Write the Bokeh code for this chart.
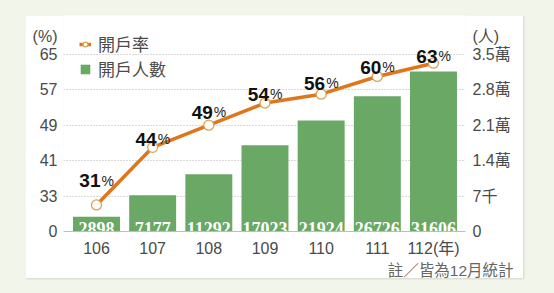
from bokeh.plotting import figure
from bokeh.models import (Range1d, LinearAxis, FixedTicker, Legend, LegendItem,
                          ColumnDataSource, Title)
from bokeh.layouts import column
from bokeh.embed import file_html
from bokeh.resources import INLINE
from bokeh.core.properties import value

# ---------------- data ----------------
years = [106, 107, 108, 109, 110, 111, 112]
year_tick_labels = ["106", "107", "108", "109", "110", "111", "112(年)"]
counts = [2898, 7177, 11292, 17023, 21924, 26726, 31606]
rates = [31, 44, 49, 54, 56, 60, 63]
pct_ticks = [25, 33, 41, 49, 57, 65]
pct_tick_labels = ["0", "33", "41", "49", "57", "65"]
cnt_ticks = [0, 7000, 14000, 21000, 28000, 35000]
cnt_tick_labels = ["0", "7千", "1.4萬", "2.1萬", "2.8萬", "3.5萬"]
series_names = ["開戶率", "開戶人數"]
unit_labels = ["(%)", "(人)"]
note_text = "註／皆為12月統計"

# ---------------- style ----------------
GREEN = "#69a865"
ORANGE = "#e0761c"
MARK_LINE = "#d9a25e"
TXT = "#4a4a4a"
SANS = "Liberation Sans, Noto Sans CJK TC, sans-serif"
CJK = "Noto Sans CJK TC, sans-serif"
NARROW = "Liberation Sans Narrow"
label_dy = [-31, -15, -20, -16, -18, -16, -14]   # label offsets above points (px)

# frame geometry (px) -> ranges
PX_PER_PCT = 4.45
FRAME_H = 217
X0, X1 = 105.4125, 112.57
Y0 = pct_ticks[0]
Y1 = Y0 + FRAME_H / PX_PER_PCT
C1 = FRAME_H * cnt_ticks[-1] / ((pct_ticks[-1] - pct_ticks[0]) * PX_PER_PCT)
UNIT_PX = 196                                     # unit labels height above baseline
unit_pct = Y0 + UNIT_PX / PX_PER_PCT
unit_cnt = UNIT_PX * C1 / FRAME_H

p = figure(width=498, height=263, output_backend="svg", toolbar_location=None,
           x_range=Range1d(X0, X1), y_range=Range1d(Y0, Y1),
           min_border_left=38, min_border_right=58, min_border_top=0,
           min_border_bottom=46, background_fill_color="white",
           border_fill_color="white", outline_line_color=None)
p.margin = (15, 31, 15, 25)
p.extra_y_ranges = {"cnt": Range1d(0, C1)}


def style_axis(ax, standoff):
    ax.axis_line_color = None
    ax.major_tick_line_color = None
    ax.minor_tick_line_color = None
    ax.major_tick_out = 0
    ax.major_tick_in = 0
    ax.minor_tick_out = 0
    ax.major_label_standoff = standoff
    ax.major_label_text_font = SANS
    ax.major_label_text_font_size = "16px"
    ax.major_label_text_color = TXT


xa = p.xaxis[0]
xa.ticker = FixedTicker(ticks=years)
xa.major_label_overrides = {y: l for y, l in zip(years, year_tick_labels)}
style_axis(xa, 8)
xa.axis_line_color = "#bdbdbd"
xa.axis_line_width = 1

ya = p.yaxis[0]
ya.ticker = FixedTicker(ticks=pct_ticks + [unit_pct])
ovr = {t: l for t, l in zip(pct_ticks, pct_tick_labels)}
ovr[unit_pct] = unit_labels[0]
ya.major_label_overrides = ovr
style_axis(ya, 6)

ra = LinearAxis(y_range_name="cnt", ticker=FixedTicker(ticks=cnt_ticks + [unit_cnt]))
ovr2 = {t: l for t, l in zip(cnt_ticks, cnt_tick_labels)}
ovr2[unit_cnt] = unit_labels[1]
ra.major_label_overrides = ovr2
style_axis(ra, 7)
p.add_layout(ra, "right")

p.xgrid.visible = False
p.ygrid.ticker = FixedTicker(ticks=pct_ticks[1:])
p.ygrid.grid_line_color = "#b5b5b5"
p.ygrid.grid_line_dash = "1 2"
p.ygrid.grid_line_width = 1

# bars
src = ColumnDataSource(dict(
    x=years, cnt=counts, rate=rates,
    cnt_txt=[str(c) for c in counts],
    rate_txt=[str(r) for r in rates],
    pct=["%"] * len(rates),
    zero=[0] * len(years),
    dy=[d + 7 for d in label_dy],
))
bars = p.vbar(x="x", top="cnt", bottom=0, width=0.836, source=src,
              y_range_name="cnt", fill_color=GREEN, line_color=None)
p.text(x="x", y="zero", text="cnt_txt", source=src, y_range_name="cnt",
       text_align="center", text_baseline="alphabetic", y_offset=-3,
       text_color="white", text_font=value(NARROW), text_font_style="bold",
       text_font_size="18px")

# line
line_r = p.line(x="x", y="rate", source=src, line_color=ORANGE, line_width=3.5)
mark_r = p.scatter(x="x", y="rate", source=src, size=10, marker="circle",
                   fill_color="#fffdf6", line_color=MARK_LINE, line_width=1.3)
p.text(x="x", y="rate", text="rate_txt", source=src, text_align="right",
       text_baseline="alphabetic", x_offset=4, y_offset="dy",
       text_color="#111111", text_font=value(SANS), text_font_style="bold",
       text_font_size="19px")
p.text(x="x", y="rate", text="pct", source=src, text_align="left",
       text_baseline="alphabetic", x_offset=5, y_offset="dy",
       text_color="#222222", text_font=value(SANS), text_font_size="14px")

legend = Legend(items=[LegendItem(label=series_names[0], renderers=[line_r, mark_r]),
                       LegendItem(label=series_names[1], renderers=[bars])],
                location="top_left", margin=0, padding=16, spacing=0,
                glyph_width=12, glyph_height=12, label_height=25,
                label_standoff=7, label_text_font=CJK,
                label_text_font_size="17px", label_text_color=TXT,
                background_fill_alpha=0, border_line_alpha=0)
p.add_layout(legend)

note = Title(text=note_text, align="right", offset=-48, standoff=0,
             text_font=SANS, text_font_size="15.5px", text_font_style="normal",
             text_color="#666666")
p.add_layout(note, "below")

p.styles = {"box-shadow": "1px 1px 2px rgba(0,0,0,0.12)"}
root = column(p, styles={"background-color": "#f2f5ea"})

open("out.html", "w").write(file_html(root, INLINE))
